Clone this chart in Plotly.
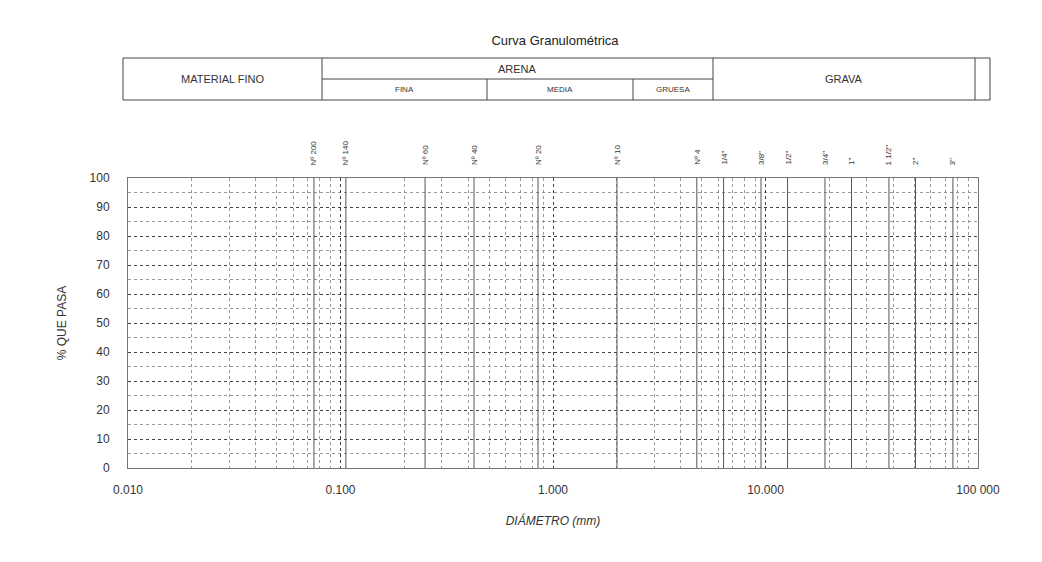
import plotly.graph_objects as go
import math

# ---- data ----
sieve_labels = ["Nº 200", "Nº 140", "Nº 60", "Nº 40", "Nº 20", "Nº 10", "Nº 4",
                '1/4"', '3/8"', '1/2"', '3/4"', '1"', '1 1/2"', '2"', '3"']
sieve_mm = [0.075, 0.106, 0.25, 0.425, 0.85, 2.0, 4.75,
            6.35, 9.525, 12.7, 19.05, 25.4, 38.1, 50.8, 76.2]
x_tick_vals = [0.01, 0.1, 1, 10, 100]
x_tick_text = ["0.010", "0.100", "1.000", "10.000", "100 000"]
y_tick_vals = [0, 10, 20, 30, 40, 50, 60, 70, 80, 90, 100]

# header zones
zones_top = ["MATERIAL FINO", "ARENA", "GRAVA"]
zones_sub = ["FINA", "MEDIA", "GRUESA"]

W, H = 1042, 562
L, R, T, B = 128, 978, 178, 468


def px(xp):
    return (xp - L) / (R - L)


def py(yp):
    return (B - yp) / (B - T)


fig = go.Figure()

# sieve lines
xs, ys = [], []
for d in sieve_mm:
    xs += [d, d, None]
    ys += [0, 100, None]
fig.add_trace(go.Scatter(x=xs, y=ys, mode="lines",
                         line=dict(color="#555555", width=1),
                         hoverinfo="skip", showlegend=False))

minor_x = [k * 10 ** e for e in range(-2, 2) for k in range(2, 10)]

fig.update_xaxes(type="log", range=[-2, 2],
                 tickvals=x_tick_vals, ticktext=x_tick_text,
                 showgrid=True, gridcolor="#444444", gridwidth=1,
                 griddash="dot",
                 minor=dict(tickvals=minor_x, showgrid=True,
                            gridcolor="#999999", griddash="dot", gridwidth=1),
                 showline=True, linecolor="#777777", linewidth=1, mirror=True,
                 ticks="", zeroline=False, ticklabelstandoff=11,
                 tickfont=dict(family="Liberation Sans", size=12, color="#333333"),
                 title=dict(text="<i>DIÁMETRO (mm)</i>", standoff=20,
                            font=dict(family="Liberation Sans", size=12, color="#333333")))
fig.update_yaxes(range=[0, 100], tickvals=y_tick_vals,
                 showgrid=True, gridcolor="#444444", gridwidth=1, griddash="dot",
                 minor=dict(dtick=5, showgrid=True, gridcolor="#999999",
                            griddash="dot", gridwidth=1),
                 showline=True, linecolor="#777777", linewidth=1, mirror=True,
                 ticks="", zeroline=False, ticklabelstandoff=15,
                 tickfont=dict(family="Liberation Sans", size=12, color="#333333"),
                 title=dict(text="% QUE PASA", standoff=20,
                            font=dict(family="Liberation Sans", size=12, color="#333333")))

# header table
hx0, hx1, hx2, hx3, hx4, hx5, hx6 = px(123), px(322), px(487), px(633), px(713), px(975), px(990)
hy0, hy1, hy2 = py(58), py(79), py(100)
lc = dict(color="#444444", width=1)
shapes = [
    dict(type="rect", xref="paper", yref="paper", x0=hx0, x1=hx6, y0=hy2, y1=hy0, line=lc),
    dict(type="line", xref="paper", yref="paper", x0=hx1, x1=hx1, y0=hy2, y1=hy0, line=lc),
    dict(type="line", xref="paper", yref="paper", x0=hx4, x1=hx4, y0=hy2, y1=hy0, line=lc),
    dict(type="line", xref="paper", yref="paper", x0=hx5, x1=hx5, y0=hy2, y1=hy0, line=lc),
    dict(type="line", xref="paper", yref="paper", x0=hx1, x1=hx4, y0=hy1, y1=hy1, line=lc),
    dict(type="line", xref="paper", yref="paper", x0=hx2, x1=hx2, y0=hy2, y1=hy1, line=lc),
    dict(type="line", xref="paper", yref="paper", x0=hx3, x1=hx3, y0=hy2, y1=hy1, line=lc),
]
fig.update_layout(shapes=shapes)

font_big = dict(family="Liberation Sans", size=11, color="#333333")
font_small = dict(family="Liberation Sans", size=8, color="#333333")
ann = []
top_pos = [((hx0 + hx1) / 2, (hy0 + hy2) / 2),
           ((hx1 + hx4) / 2, (hy0 + hy1) / 2),
           ((hx4 + hx5) / 2, (hy0 + hy2) / 2)]
for t, (ax, ay) in zip(zones_top, top_pos):
    ann.append(dict(text=t, x=ax, y=ay, xref="paper", yref="paper",
                    xanchor="center", yanchor="middle",
                    showarrow=False, font=font_big))
sub_pos = [((hx1 + hx2) / 2), ((hx2 + hx3) / 2), ((hx3 + hx4) / 2)]
for t, ax in zip(zones_sub, sub_pos):
    ann.append(dict(text=t, x=ax, y=(hy1 + hy2) / 2, xref="paper", yref="paper",
                    xanchor="center", yanchor="middle",
                    showarrow=False, font=font_small))

for lab, d in zip(sieve_labels, sieve_mm):
    ann.append(dict(text=lab, x=math.log10(d), y=py(167), xref="x", yref="paper",
                    textangle=-90, xanchor="center", yanchor="bottom",
                    showarrow=False,
                    font=dict(family="Liberation Sans", size=8, color="#333333")))

fig.update_layout(
    annotations=ann,
    title=dict(text="Curva Granulométrica", x=555 / W, xanchor="center",
               y=1 - 40 / H, yanchor="middle",
               font=dict(family="Liberation Sans", size=13, color="#222222")),
    width=W, height=H,
    margin=dict(l=L, r=W - R, t=T, b=H - B),
    paper_bgcolor="white", plot_bgcolor="white",
    showlegend=False,
)

fig.write_html("out.html")
